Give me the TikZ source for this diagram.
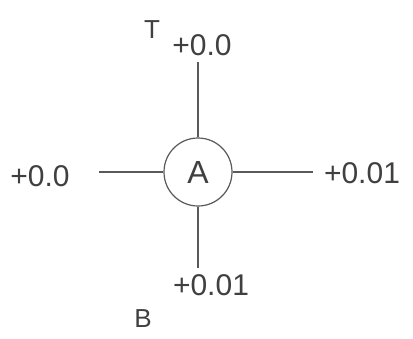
\documentclass[tikz,border=0pt]{standalone}
\usepackage{fontspec}
\setmainfont{Liberation Sans}
\begin{document}
\begin{tikzpicture}[x=1pt,y=-1pt,
  ln/.style={draw=black!65,line width=1.2pt},
  lbl/.style={text=black!75,inner sep=0pt,font=\fontsize{30}{30}\selectfont},
  let/.style={text=black!75,inner sep=0pt,font=\fontsize{26}{26}\selectfont}]
\fill[white] (0,0) rectangle (413,338);
\useasboundingbox (0,0) rectangle (413,338);
\node[circle,draw=black!65,line width=1.2pt,minimum size=68pt,inner sep=0pt,text=black!75,font=\fontsize{32}{32}\selectfont] (A) at (198,172) {A};
\coordinate (t) at (198,62);
\coordinate (b) at (198,268);
\coordinate (l) at (99,172);
\coordinate (r) at (313,172);
\draw[ln] (A.north) -- (t);
\draw[ln] (A.south) -- (b);
\draw[ln] (A.west) -- (l);
\draw[ln] (A.east) -- (r);
\node[lbl] (nt) at (202,45) {+0.0};
\node[lbl] (nl) at (40,176) {+0.0};
\node[lbl] (nr) at (362,173) {+0.01};
\node[lbl] (nb) at (211,285) {+0.01};
\node[let] (T) at (152,30) {T};
\node[let] (B) at (143,319) {B};
\end{tikzpicture}
\end{document}
